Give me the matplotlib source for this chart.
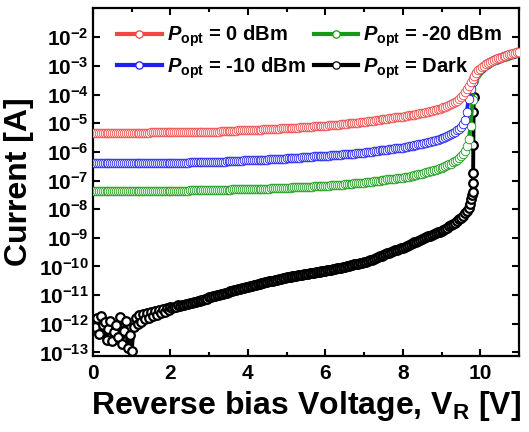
import numpy as np
import matplotlib
matplotlib.use("Agg")
import matplotlib.pyplot as plt
from matplotlib.ticker import FixedLocator, FuncFormatter, MultipleLocator

plt.rcParams["font.family"] = ["Liberation Sans", "DejaVu Sans"]
plt.rcParams["font.weight"] = "bold"
plt.rcParams["mathtext.fontset"] = "custom"
plt.rcParams["mathtext.rm"] = "Liberation Sans:bold"
plt.rcParams["mathtext.bf"] = "Liberation Sans:bold"
plt.rcParams["mathtext.it"] = "Liberation Sans:italic:bold"
plt.rcParams["mathtext.sf"] = "Liberation Sans:bold"

# Reverse-bias sweep, 0 to 11 V in 50 mV steps
v_sweep = np.round(np.arange(0, 11.0001, 0.05), 2)

# log10 of the photocurrent (A) at each sweep voltage
log_i_0dbm = [
    -5.33, -5.33, -5.33, -5.33, -5.33, -5.33, -5.33, -5.33, -5.33, -5.33, -5.33, -5.33, -5.33, -5.33, -5.33, -5.33, -5.33, -5.33, -5.33, -5.33,
    -5.33, -5.33, -5.33, -5.33, -5.33, -5.33, -5.33, -5.33, -5.33, -5.33, -5.32, -5.32, -5.32, -5.32, -5.32, -5.32, -5.32, -5.32, -5.32, -5.32,
    -5.32, -5.32, -5.32, -5.32, -5.32, -5.32, -5.32, -5.32, -5.32, -5.32, -5.31, -5.31, -5.31, -5.31, -5.31, -5.31, -5.31, -5.31, -5.31, -5.31,
    -5.30, -5.30, -5.30, -5.29, -5.29, -5.29, -5.28, -5.28, -5.28, -5.27, -5.27, -5.27, -5.26, -5.26, -5.26, -5.25, -5.25, -5.25, -5.25, -5.24,
    -5.24, -5.24, -5.23, -5.23, -5.23, -5.22, -5.22, -5.22, -5.21, -5.21, -5.21, -5.20, -5.20, -5.20, -5.19, -5.19, -5.19, -5.18, -5.18, -5.18,
    -5.17, -5.17, -5.17, -5.16, -5.16, -5.15, -5.15, -5.14, -5.14, -5.14, -5.13, -5.13, -5.12, -5.12, -5.11, -5.11, -5.10, -5.10, -5.09, -5.09,
    -5.08, -5.08, -5.07, -5.07, -5.06, -5.06, -5.05, -5.05, -5.04, -5.03, -5.03, -5.02, -5.01, -5.01, -5.00, -4.99, -4.99, -4.98, -4.97, -4.97,
    -4.96, -4.95, -4.94, -4.93, -4.92, -4.91, -4.90, -4.89, -4.88, -4.87, -4.86, -4.85, -4.84, -4.83, -4.82, -4.81, -4.80, -4.79, -4.78, -4.78,
    -4.77, -4.76, -4.75, -4.73, -4.72, -4.71, -4.70, -4.68, -4.67, -4.66, -4.64, -4.63, -4.61, -4.60, -4.58, -4.57, -4.55, -4.53, -4.51, -4.49,
    -4.47, -4.45, -4.42, -4.40, -4.37, -4.34, -4.30, -4.26, -4.21, -4.15, -4.08,
    -4.00, -3.90, -3.80, -3.69, -3.57, -3.45, -3.34, -3.24, -3.16, -3.10, -3.04, -2.99, -2.94, -2.90, -2.86,
    -2.82, -2.79, -2.76, -2.73, -2.71, -2.68, -2.66, -2.64, -2.62, -2.60, -2.58, -2.56, -2.54, -2.52, -2.50,
]

log_i_m10dbm = [
    -6.40, -6.40, -6.40, -6.40, -6.40, -6.40, -6.40, -6.40, -6.40, -6.40, -6.40, -6.40, -6.40, -6.40, -6.40, -6.40, -6.40, -6.40, -6.40, -6.40,
    -6.40, -6.40, -6.40, -6.40, -6.40, -6.40, -6.40, -6.40, -6.40, -6.40, -6.39, -6.39, -6.39, -6.39, -6.39, -6.39, -6.39, -6.39, -6.39, -6.39,
    -6.38, -6.38, -6.38, -6.38, -6.38, -6.38, -6.38, -6.38, -6.38, -6.38, -6.37, -6.37, -6.37, -6.37, -6.37, -6.37, -6.37, -6.37, -6.37, -6.37,
    -6.36, -6.36, -6.36, -6.35, -6.35, -6.35, -6.34, -6.34, -6.34, -6.33, -6.33, -6.33, -6.32, -6.32, -6.32, -6.31, -6.31, -6.31, -6.30, -6.30,
    -6.30, -6.30, -6.29, -6.29, -6.29, -6.28, -6.28, -6.28, -6.27, -6.27, -6.27, -6.26, -6.26, -6.26, -6.25, -6.25, -6.25, -6.24, -6.24, -6.24,
    -6.23, -6.23, -6.22, -6.22, -6.21, -6.21, -6.20, -6.20, -6.19, -6.19, -6.18, -6.18, -6.17, -6.17, -6.16, -6.16, -6.16, -6.15, -6.15, -6.15,
    -6.14, -6.13, -6.13, -6.12, -6.12, -6.11, -6.11, -6.10, -6.10, -6.09, -6.09, -6.08, -6.07, -6.07, -6.06, -6.06, -6.05, -6.05, -6.04, -6.04,
    -6.03, -6.02, -6.01, -6.00, -5.99, -5.98, -5.97, -5.96, -5.95, -5.94, -5.94, -5.93, -5.92, -5.91, -5.90, -5.89, -5.88, -5.87, -5.86, -5.86,
    -5.85, -5.84, -5.82, -5.81, -5.80, -5.79, -5.77, -5.76, -5.74, -5.73, -5.71, -5.70, -5.68, -5.66, -5.65, -5.63, -5.61, -5.59, -5.57, -5.55,
    -5.52, -5.50, -5.47, -5.44, -5.41, -5.38, -5.34, -5.30, -5.25, -5.19, -5.12,
    -5.03, -4.90, -4.60, -4.15, -3.80, -3.55, -3.38, -3.26, -3.18, -3.12, -3.06, -3.00, -2.95, -2.91, -2.87,
    -2.83, -2.80, -2.77, -2.74, -2.72, -2.69, -2.67, -2.65, -2.63, -2.61, -2.59, -2.57, -2.55, -2.53, -2.51,
]

log_i_m20dbm = [
    -7.37, -7.37, -7.37, -7.37, -7.37, -7.37, -7.37, -7.37, -7.37, -7.37, -7.37, -7.37, -7.37, -7.37, -7.37, -7.37, -7.37, -7.37, -7.37, -7.37,
    -7.37, -7.37, -7.37, -7.37, -7.37, -7.37, -7.37, -7.37, -7.37, -7.37, -7.36, -7.36, -7.36, -7.36, -7.36, -7.36, -7.36, -7.36, -7.36, -7.36,
    -7.35, -7.35, -7.35, -7.35, -7.35, -7.35, -7.35, -7.35, -7.35, -7.35, -7.34, -7.34, -7.34, -7.34, -7.34, -7.34, -7.34, -7.34, -7.34, -7.34,
    -7.33, -7.33, -7.33, -7.33, -7.33, -7.32, -7.32, -7.32, -7.32, -7.32, -7.32, -7.32, -7.31, -7.31, -7.31, -7.31, -7.31, -7.31, -7.31, -7.31,
    -7.31, -7.31, -7.30, -7.30, -7.30, -7.29, -7.29, -7.29, -7.28, -7.28, -7.28, -7.28, -7.27, -7.27, -7.27, -7.27, -7.26, -7.26, -7.26, -7.26,
    -7.26, -7.25, -7.25, -7.24, -7.24, -7.23, -7.23, -7.23, -7.22, -7.22, -7.22, -7.21, -7.21, -7.21, -7.20, -7.20, -7.20, -7.20, -7.19, -7.19,
    -7.19, -7.18, -7.18, -7.17, -7.17, -7.16, -7.16, -7.15, -7.15, -7.14, -7.13, -7.13, -7.12, -7.11, -7.11, -7.10, -7.10, -7.09, -7.08, -7.08,
    -7.07, -7.06, -7.05, -7.04, -7.04, -7.03, -7.02, -7.01, -7.00, -6.99, -6.98, -6.97, -6.96, -6.96, -6.95, -6.94, -6.93, -6.92, -6.91, -6.91,
    -6.90, -6.88, -6.87, -6.86, -6.84, -6.83, -6.82, -6.80, -6.79, -6.77, -6.76, -6.74, -6.72, -6.70, -6.68, -6.66, -6.64, -6.62, -6.60, -6.58,
    -6.55, -6.53, -6.50, -6.47, -6.44, -6.41, -6.37, -6.33, -6.28, -6.22, -6.15,
    -6.07, -5.97, -5.80, -5.56, -5.10, -4.20, -3.50, -3.30, -3.20, -3.13, -3.07, -3.01, -2.96, -2.92, -2.88,
    -2.84, -2.81, -2.78, -2.75, -2.73, -2.70, -2.68, -2.66, -2.64, -2.62, -2.60, -2.58, -2.56, -2.54, -2.52,
]

# Dark current: same sweep up to 9.70 V, then a finer set of points through breakdown
log_i_dark = [
    -11.85, -12.10, -11.80, -12.35, -11.72, -12.05, -11.95, -12.55, -12.20, -11.90, -12.60, -12.30, -12.05, -12.45, -11.78, -12.70, -12.25, -11.90, -12.85, -12.40,
    -12.95, -12.10, -11.80, -12.00, -11.70, -11.95, -11.65, -11.85, -11.62, -11.80, -11.60, -11.72, -11.55, -11.68, -11.52, -11.62, -11.50, -11.58, -11.46, -11.52,
    -11.43, -11.45, -11.40, -11.42, -11.36, -11.38, -11.33, -11.35, -11.30, -11.31, -11.26, -11.28, -11.23, -11.24, -11.19, -11.21, -11.16, -11.17, -11.12, -11.13,
    -11.08, -11.07, -11.04, -11.03, -11.00, -10.99, -10.96, -10.95, -10.92, -10.91, -10.88, -10.87, -10.85, -10.83, -10.81, -10.79, -10.77, -10.76, -10.74, -10.72,
    -10.70, -10.68, -10.67, -10.65, -10.63, -10.62, -10.60, -10.59, -10.57, -10.55, -10.54, -10.52, -10.51, -10.49, -10.47, -10.46, -10.44, -10.43, -10.41, -10.40,
    -10.38, -10.37, -10.36, -10.35, -10.33, -10.32, -10.31, -10.30, -10.29, -10.28, -10.27, -10.25, -10.24, -10.23, -10.22, -10.21, -10.20, -10.19, -10.17, -10.16,
    -10.15, -10.14, -10.12, -10.11, -10.09, -10.08, -10.07, -10.05, -10.04, -10.02, -10.01, -9.99, -9.98, -9.96, -9.95, -9.93, -9.92, -9.90, -9.89, -9.87,
    -9.86, -9.84, -9.81, -9.78, -9.76, -9.73, -9.70, -9.68, -9.65, -9.62, -9.60, -9.57, -9.54, -9.52, -9.49, -9.47, -9.44, -9.41, -9.39, -9.36,
    -9.34, -9.31, -9.28, -9.25, -9.22, -9.19, -9.16, -9.13, -9.10, -9.07, -9.04, -9.01, -8.98, -8.95, -8.92, -8.89, -8.86, -8.83, -8.80, -8.78,
    -8.76, -8.72, -8.68, -8.64, -8.60, -8.56, -8.52, -8.47, -8.42, -8.36, -8.30, -8.23, -8.15, -8.06, -7.95,
]
v_dark_breakdown = [9.74, 9.77, 9.79, 9.80, 9.81, 9.815, 9.82, 9.825, 9.83]
log_i_dark_breakdown = [-7.82, -7.65, -7.50, -7.40, -7.10, -6.75, -5.75, -4.60, -4.10]

labels = [r"$P_{\mathrm{opt}}$ = 0 dBm", r"$P_{\mathrm{opt}}$ = -10 dBm",
          r"$P_{\mathrm{opt}}$ = -20 dBm", r"$P_{\mathrm{opt}}$ = Dark"]
colors = ["#F04646", "#1E1EF5", "#169A16", "#000000"]

fig = plt.figure(figsize=(5.29, 4.32), dpi=100)
ax = fig.add_axes([93 / 529, 1 - 356 / 432, 426 / 529, 348 / 432])

v_dark = np.concatenate([v_sweep[: len(log_i_dark)], v_dark_breakdown])
i_dark = 10.0 ** np.concatenate([log_i_dark, log_i_dark_breakdown])

common = dict(marker="o", markersize=6.2, markerfacecolor="white", linewidth=2.8)
h_dark, = ax.plot(v_dark, i_dark, color=colors[3], markeredgewidth=1.6,
                  zorder=2, **common)
h_g, = ax.plot(v_sweep, 10.0 ** np.array(log_i_m20dbm), color=colors[2],
               markeredgewidth=0.6, zorder=3, **common)
h_b, = ax.plot(v_sweep, 10.0 ** np.array(log_i_m10dbm), color=colors[1],
               markeredgewidth=0.6, zorder=4, **common)
h_r, = ax.plot(v_sweep, 10.0 ** np.array(log_i_0dbm), color=colors[0],
               markeredgewidth=0.6, zorder=5, **common)

ax.set_yscale("log")
ax.set_xlim(0, 11)
ax.set_ylim(7.5e-14, 1.05e-1)

decades = list(range(-13, -1))
ax.yaxis.set_major_locator(FixedLocator([10.0 ** d for d in decades]))
ax.yaxis.set_minor_locator(FixedLocator([]))
ax.yaxis.set_major_formatter(
    FuncFormatter(lambda y, pos: r"$10^{%d}$" % int(round(np.log10(y)))))
ax.xaxis.set_major_locator(MultipleLocator(2))
ax.xaxis.set_minor_locator(MultipleLocator(1))
ax.xaxis.set_major_formatter(FuncFormatter(lambda x, pos: "%d" % x))

ax.tick_params(which="both", direction="in", top=True, right=True,
               labelsize=15, width=1.5)
ax.tick_params(which="major", length=5)
ax.tick_params(which="minor", length=3)
ax.tick_params(axis="x", pad=6)
ax.tick_params(axis="y", pad=3)
for s in ax.spines.values():
    s.set_linewidth(1.6)

ax.set_xlabel(r"Reverse bias Voltage, V$_{\mathrm{R}}$ [V]", fontsize=23,
              fontweight="bold", labelpad=4)
ax.set_ylabel("Current [A]", fontsize=23, fontweight="bold", labelpad=4)

leg_handles = [h_r, h_b, h_g, h_dark]
leg = ax.legend(leg_handles, labels, ncol=2, loc="upper left",
                bbox_to_anchor=(0.038, 0.978), frameon=False, fontsize=14.5,
                handlelength=2.2, handletextpad=0.25, columnspacing=0.4,
                labelspacing=0.3, borderaxespad=0, markerscale=0.85)
for line in leg.get_lines():
    line.set_linewidth(3.0)
    line.set_markeredgewidth(0.9)

fig.savefig("out.png", dpi=100)
